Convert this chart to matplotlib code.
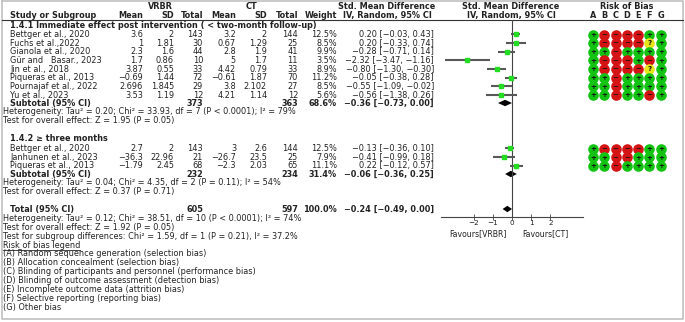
import matplotlib
matplotlib.use("Agg")
import matplotlib.pyplot as plt

plt.rcParams['font.family'] = ['DejaVu Sans']

# ---- data -------------------------------------------------------------
names1 = ["Bettger et al., 2020", "Fuchs et al.,2022", "Gianola et al., 2020",
          "Gür and   Basar., 2023", "Jin et al., 2018", "Piqueras et al., 2013",
          "Pournajaf et al., 2022", "Yu et al., 2023"]
vr_mean1 = [3.6, 1, 2.3, 1.7, 3.87, -0.69, 2.696, 3.53]
vr_sd1 = [2, 1.81, 1.6, 0.86, 0.55, 1.44, 1.845, 1.19]
vr_n1 = [143, 30, 44, 10, 33, 72, 29, 12]
ct_mean1 = [3.2, 0.67, 2.8, 5, 4.42, -0.61, 3.8, 4.21]
ct_sd1 = [2, 1.29, 1.9, 1.7, 0.79, 1.87, 2.102, 1.14]
ct_n1 = [144, 25, 41, 11, 33, 70, 27, 12]
weight1 = [12.5, 8.5, 9.9, 3.5, 8.9, 11.2, 8.5, 5.6]
smd1 = [0.20, 0.20, -0.28, -2.32, -0.80, -0.05, -0.55, -0.56]
lo1 = [-0.03, -0.33, -0.71, -3.47, -1.30, -0.38, -1.09, -1.38]
hi1 = [0.43, 0.74, 0.14, -1.16, -0.30, 0.28, -0.02, 0.26]
rob1 = ["+----++", "+----?+", "++-++++", "+---+-+",
        "+----?+", "++-++++", "++-++++", "++-++-+"]

names2 = ["Bettger et al., 2020", "Janhunen et al., 2023", "Piqueras et al., 2013"]
vr_mean2 = [2.7, -36.3, -1.79]
vr_sd2 = [2, 22.96, 2.45]
vr_n2 = [143, 21, 68]
ct_mean2 = [3, -26.7, -2.3]
ct_sd2 = [2.6, 23.5, 2.03]
ct_n2 = [144, 25, 65]
weight2 = [12.5, 7.9, 11.1]
smd2 = [-0.13, -0.41, 0.22]
lo2 = [-0.36, -0.99, -0.12]
hi2 = [0.10, 0.18, 0.57]
rob2 = ["+----++", "++--+++", "++-++++"]

# subtotal / total: n_vrbr, n_ct, weight, smd, lo, hi
sub1 = [373, 363, 68.6, -0.36, -0.73, 0.00]
sub2 = [232, 234, 31.4, -0.06, -0.36, 0.25]
total = [605, 597, 100.0, -0.24, -0.49, 0.00]

het1 = "Heterogeneity: Tau² = 0.20; Chi² = 33.93, df = 7 (P < 0.0001); I² = 79%"
eff1 = "Test for overall effect: Z = 1.95 (P = 0.05)"
het2 = "Heterogeneity: Tau² = 0.04; Chi² = 4.35, df = 2 (P = 0.11); I² = 54%"
eff2 = "Test for overall effect: Z = 0.37 (P = 0.71)"
het_t = "Heterogeneity: Tau² = 0.12; Chi² = 38.51, df = 10 (P < 0.0001); I² = 74%"
eff_t = "Test for overall effect: Z = 1.92 (P = 0.05)"
subgrp = "Test for subgroup differences: Chi² = 1.59, df = 1 (P = 0.21), I² = 37.2%"

rob_letters = ["A", "B", "C", "D", "E", "F", "G"]
rob_legend = ["(A) Random sequence generation (selection bias)",
              "(B) Allocation concealment (selection bias)",
              "(C) Blinding of participants and personnel (performance bias)",
              "(D) Blinding of outcome assessment (detection bias)",
              "(E) Incomplete outcome data (attrition bias)",
              "(F) Selective reporting (reporting bias)",
              "(G) Other bias"]
xticks = [-2, -1, 0, 1, 2]

# ---- layout ----------------------------------------------------------
W, H = 685, 322
FS = 5.9
TXT = '#222222'
fig = plt.figure(figsize=(W / 100, H / 100), dpi=100)
ax = fig.add_axes([0, 0, 1, 1])
ax.set_xlim(0, W)
ax.set_ylim(H, 0)
ax.axis('off')

# frame
ax.plot([2, 683, 683, 2, 2], [1, 1, 319, 319, 1], color='#c0c0c0', lw=1.2)
ax.plot([2, 683], [20, 20], color='#333333', lw=0.8)

def num(v):
    return f"{v:g}".replace('-', '−')

def ci(e, l, h):
    return f"{e:.2f} [{l:.2f}, {h:.2f}]".replace('-', '−')

def t(x, y, s, ha='left', bold=False, size=FS):
    return ax.text(x, y, s, ha=ha, va='center', fontsize=size, color=TXT,
                   fontweight='bold' if bold else 'normal')

# column right edges
c_vm, c_vs, c_vn = 143, 174, 203
c_cm, c_cs, c_cn = 236, 267, 298
c_w, c_ci = 337, 434

# headers
t(160, 6, "VRBR", 'center', True)
t(252, 6, "CT", 'center', True)
t(10, 15, "Study or Subgroup", bold=True)
for x, s in [(c_vm, "Mean"), (c_vs, "SD"), (c_vn, "Total"),
             (c_cm, "Mean"), (c_cs, "SD"), (c_cn, "Total"), (c_w, "Weight")]:
    t(x, 15, s, 'right', True)
t(387, 6, "Std. Mean Difference", 'center', True)
t(387, 15, "IV, Random, 95% CI", 'center', True)
t(511, 6, "Std. Mean Difference", 'center', True)
t(511, 15, "IV, Random, 95% CI", 'center', True)
t(627, 6, "Risk of Bias", 'center', True)
rob_x = [593 + i * 11.3 for i in range(len(rob_letters))]
for x, s in zip(rob_x, rob_letters):
    t(x, 15, s, 'center', True)

# forest axes: rows measured in pixel rows
fx = fig.add_axes([441 / W, (H - 217) / H, 142 / W, (217 - 20) / H])
fx.set_xlim(-3.7, 3.7)
fx.set_ylim(217, 20)
fx.patch.set_alpha(0)
for sp in ['left', 'right', 'top']:
    fx.spines[sp].set_visible(False)
fx.spines['bottom'].set_color('#444444')
fx.spines['bottom'].set_linewidth(0.8)
fx.set_yticks([])
fx.set_xticks(xticks)
fx.set_xticklabels([num(v) for v in xticks])
fx.tick_params(axis='x', direction='inout', length=4, width=0.6, pad=0,
               labelsize=5.2, colors='#444444', labelcolor=TXT)
fx.axvline(0, color='#444444', lw=0.8)

rob_col = {'+': '#12c312', '-': '#d41414', '?': '#e8e41a'}
rob_sym = {'+': '+', '-': '−', '?': '?'}

def study_rows(rows, names, vm, vs, vn, cm, cs, cn, w, e, l, h, rob):
    for i, y in enumerate(rows):
        t(10, y, names[i])
        t(c_vm, y, num(vm[i]), 'right')
        t(c_vs, y, num(vs[i]), 'right')
        t(c_vn, y, str(vn[i]), 'right')
        t(c_cm, y, num(cm[i]), 'right')
        t(c_cs, y, num(cs[i]), 'right')
        t(c_cn, y, str(cn[i]), 'right')
        t(c_w, y, f"{w[i]:.1f}%", 'right')
        t(c_ci, y, ci(e[i], l[i], h[i]), 'right')
        fx.plot([l[i], h[i]], [y, y], color='#585858', lw=1.5, zorder=5,
                solid_capstyle='butt')
        fx.plot([e[i]], [y], 's', ms=2.4, color='#22dd22', mec='#22dd22',
                zorder=6)
        for j, c in enumerate(rob[i]):
            ax.scatter(rob_x[j], y, s=58, color=rob_col[c], zorder=3, lw=0)
            ax.text(rob_x[j], y + 0.3, rob_sym[c], ha='center', va='center',
                    fontsize=5, fontweight='bold', color='#111111', zorder=4)

def summary_row(y, label, vals):
    t(10, y, label, bold=True)
    t(c_vn, y, str(vals[0]), 'right', True)
    t(c_cn, y, str(vals[1]), 'right', True)
    t(c_w, y, f"{vals[2]:.1f}%", 'right', True)
    t(c_ci, y, ci(vals[3], vals[4], vals[5]), 'right', True)
    fx.fill([vals[4], vals[3], vals[5], vals[3]], [y, y - 3.2, y, y + 3.2],
            color='black', lw=0)

# group 1
t(10, 25, "1.4.1 Immediate effect post intervention ( < two-month follow-up)", bold=True)
rows1 = [34.5 + 8.65 * i for i in range(len(names1))]
study_rows(rows1, names1, vr_mean1, vr_sd1, vr_n1, ct_mean1, ct_sd1, ct_n1,
           weight1, smd1, lo1, hi1, rob1)
summary_row(103, "Subtotal (95% CI)", sub1)
t(3, 111, het1)
t(3, 120, eff1)

# group 2
t(10, 138, "1.4.2 ≥ three months", bold=True)
rows2 = [148.5 + 8.7 * i for i in range(len(names2))]
study_rows(rows2, names2, vr_mean2, vr_sd2, vr_n2, ct_mean2, ct_sd2, ct_n2,
           weight2, smd2, lo2, hi2, rob2)
summary_row(174, "Subtotal (95% CI)", sub2)
t(3, 182, het2)
t(3, 191, eff2)

# total
summary_row(209, "Total (95% CI)", total)
t(3, 218, het_t)
t(3, 227, eff_t)
t(3, 236, subgrp)

# favours labels
t(478, 233.5, "Favours[VRBR]", 'center', size=5.6)
t(545, 233.5, "Favours[CT]", 'center', size=5.6)

# risk of bias legend (underlined heading)
leg = t(3, 245, "Risk of bias legend")
fig.canvas.draw()
bb = leg.get_window_extent().transformed(ax.transData.inverted())
ax.plot([bb.x0, bb.x1], [249.5, 249.5], color=TXT, lw=0.6)
for i, s in enumerate(rob_legend):
    t(3, 254 + 8.9 * i, s)

fig.savefig("out.png", dpi=100)
